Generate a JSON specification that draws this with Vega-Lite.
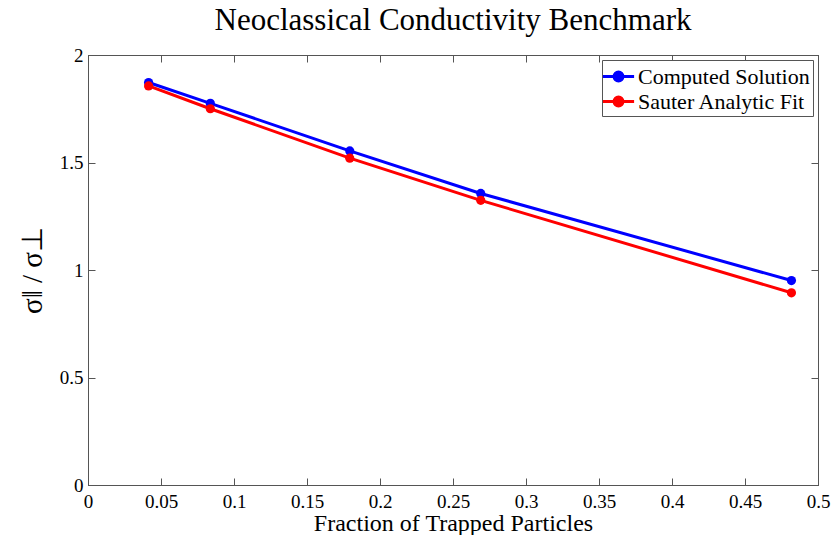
{
  "$schema": "https://vega.github.io/schema/vega-lite/v6.json",
  "width": 730,
  "height": 430,
  "autosize": {"type": "none"},
  "padding": {"left": 88, "top": 55, "right": 18, "bottom": 50},
  "background": "white",
  "title": {
    "text": "Neoclassical Conductivity Benchmark",
    "font": "Liberation Serif",
    "fontSize": 31,
    "fontWeight": "normal",
    "color": "black",
    "anchor": "middle",
    "offset": 9
  },
  "config": {
    "view": {"stroke": "#555555", "strokeWidth": 1},
    "axis": {
      "labelFont": "Liberation Serif",
      "labelFontSize": 19,
      "labelColor": "black",
      "titleFont": "Liberation Serif",
      "titleFontWeight": "normal",
      "titleColor": "black",
      "grid": false,
      "domainColor": "#555555",
      "tickColor": "#555555",
      "tickSize": -7,
      "labelFlush": false,
      "labelOverlap": false
    }
  },
  "data": {
    "values": [
      {"trapped": 0.0415, "ratio": 1.872, "series": "Computed Solution"},
      {"trapped": 0.0838, "ratio": 1.775, "series": "Computed Solution"},
      {"trapped": 0.1793, "ratio": 1.554, "series": "Computed Solution"},
      {"trapped": 0.2690, "ratio": 1.356, "series": "Computed Solution"},
      {"trapped": 0.4818, "ratio": 0.951, "series": "Computed Solution"},
      {"trapped": 0.0415, "ratio": 1.856, "series": "Sauter Analytic Fit"},
      {"trapped": 0.0838, "ratio": 1.750, "series": "Sauter Analytic Fit"},
      {"trapped": 0.1793, "ratio": 1.520, "series": "Sauter Analytic Fit"},
      {"trapped": 0.2690, "ratio": 1.324, "series": "Sauter Analytic Fit"},
      {"trapped": 0.4818, "ratio": 0.894, "series": "Sauter Analytic Fit"}
    ]
  },
  "layer": [
    {
      "mark": {"type": "line", "strokeWidth": 3, "point": {"size": 85, "filled": true, "opacity": 1}},
      "encoding": {
        "x": {
          "field": "trapped",
          "type": "quantitative",
          "scale": {"domain": [0, 0.5], "nice": false, "zero": false},
          "axis": {
            "orient": "bottom",
            "values": [0, 0.05, 0.1, 0.15, 0.2, 0.25, 0.3, 0.35, 0.4, 0.45, 0.5],
            "format": "~g",
            "labelPadding": 14,
            "title": "Fraction of Trapped Particles",
            "titleFontSize": 24,
            "titlePadding": 0
          }
        },
        "y": {
          "field": "ratio",
          "type": "quantitative",
          "scale": {"domain": [0, 2], "nice": false},
          "axis": {
            "orient": "left",
            "values": [0, 0.5, 1, 1.5, 2],
            "format": "~g",
            "labelPadding": 12,
            "title": "σ‖ / σ⊥",
            "titleFontSize": 29,
            "titlePadding": 12
          }
        },
        "color": {
          "field": "series",
          "type": "nominal",
          "scale": {"domain": ["Computed Solution", "Sauter Analytic Fit"], "range": ["#0000ff", "#ff0000"]},
          "legend": {
            "title": null,
            "orient": "top-right",
            "offset": 5,
            "fillColor": "white",
            "strokeColor": "#555555",
            "padding": 3,
            "rowPadding": 0,
            "labelFont": "Liberation Serif",
            "labelFontSize": 22,
            "labelLimit": 400,
            "labelColor": "black",
            "labelOffset": 6,
            "symbolType": "M-1.3,0L1.3,0M0.37,0A0.37,0.37 0 1,1 -0.37,0A0.37,0.37 0 1,1 0.37,0Z",
            "symbolSize": 576,
            "symbolStrokeWidth": 3,
            "symbolOpacity": 1
          }
        }
      }
    },
    {
      "mark": {"type": "point", "opacity": 0},
      "encoding": {
        "x": {
          "field": "trapped",
          "type": "quantitative",
          "axis": {
            "orient": "top",
            "values": [0, 0.05, 0.1, 0.15, 0.2, 0.25, 0.3, 0.35, 0.4, 0.45, 0.5],
            "labels": false,
            "title": null
          }
        },
        "y": {
          "field": "ratio",
          "type": "quantitative",
          "axis": {
            "orient": "right",
            "values": [0, 0.5, 1, 1.5, 2],
            "labels": false,
            "title": null
          }
        }
      }
    }
  ],
  "resolve": {"axis": {"x": "independent", "y": "independent"}}
}
